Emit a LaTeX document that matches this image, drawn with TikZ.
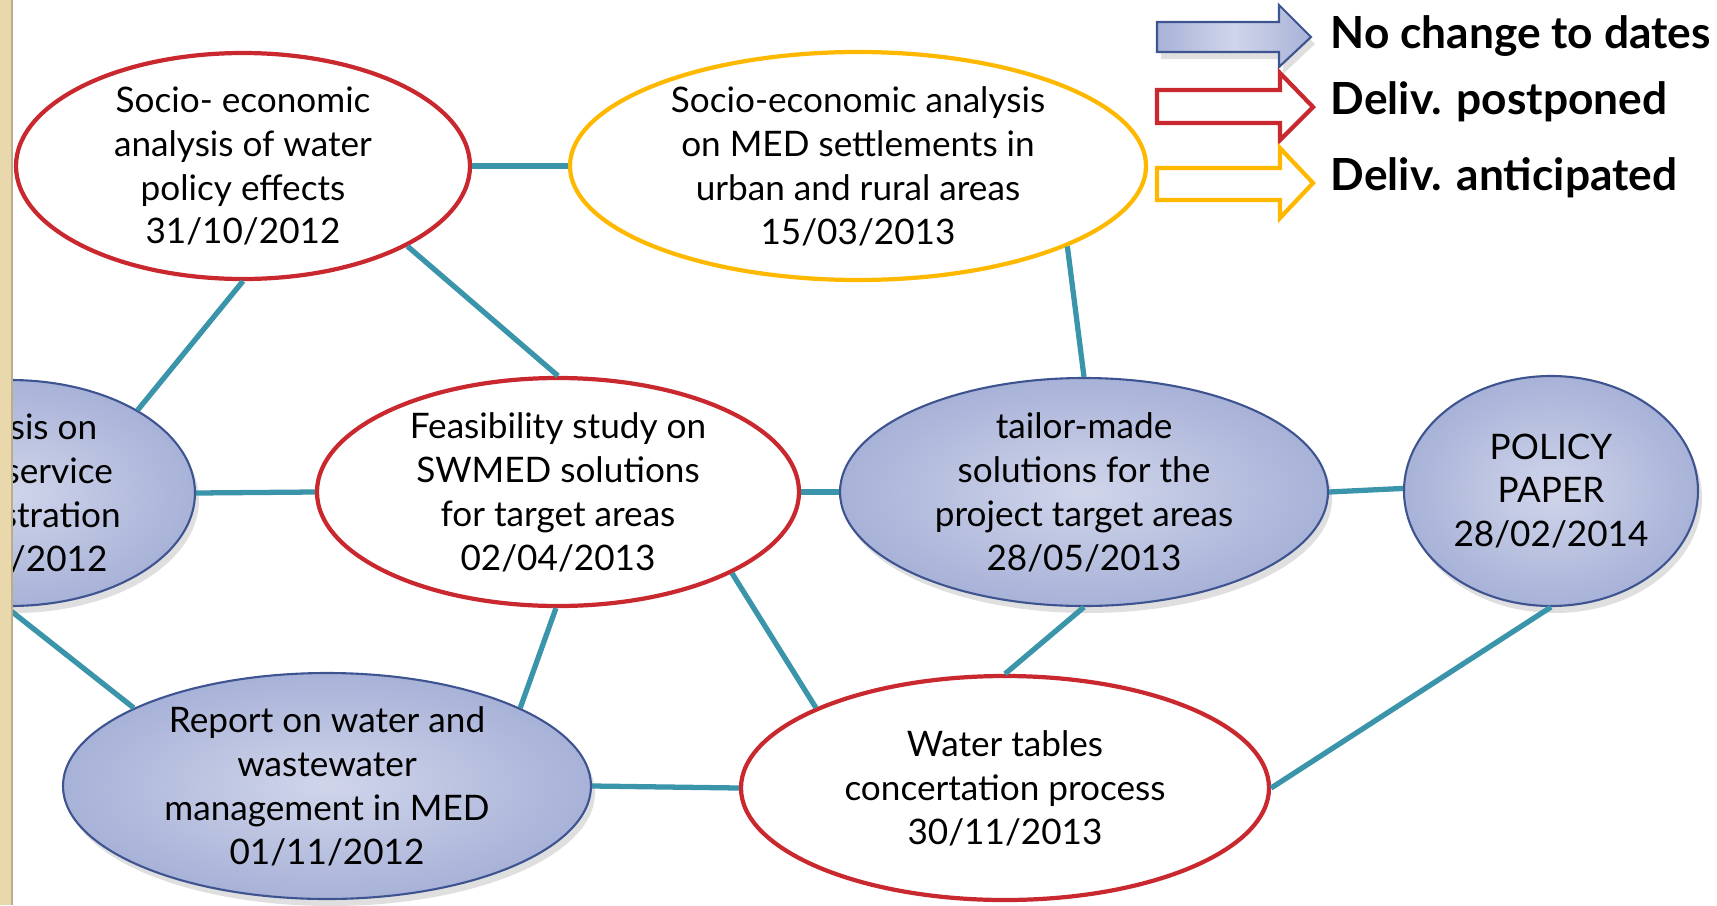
\documentclass[tikz,border=0pt]{standalone}
\usepackage{fontspec}
\setmainfont{Lato}
\usepackage{tikz}
\usetikzlibrary{shapes.geometric,shadows,positioning}
\definecolor{wpRed}{RGB}{200,40,46}
\definecolor{wpGold}{RGB}{255,184,0}
\definecolor{wpTeal}{RGB}{58,148,170}
\definecolor{wpNavy}{RGB}{62,84,145}
\definecolor{wpLight}{RGB}{208,213,234}
\definecolor{wpEdge}{RGB}{168,178,216}
\definecolor{wpBeige}{RGB}{232,216,172}
\tikzset{
  blob/.style={ellipse,inner xsep=0pt,inner ysep=-1.5mm,align=center,
    font=\fontsize{10}{12.5}\selectfont},
  redblob/.style={blob,draw=wpRed,line width=1.2pt,fill=white},
  goldblob/.style={blob,draw=wpGold,line width=1.2pt,fill=white},
  blueblob/.style={blob,draw=wpNavy,line width=0.6pt,inner color=wpLight,outer color=wpEdge,
    drop shadow={opacity=0.25,shadow xshift=0.04,shadow yshift=-0.07}},
  link/.style={wpTeal,line width=1.5pt},
  keytext/.style={anchor=west,font=\fontsize{12.6}{15}\selectfont\bfseries,inner sep=0pt}
}

\begin{document}
\begin{tikzpicture}
  \useasboundingbox (0,0) rectangle (17.17,9.05);
  % deliverables
  \node[redblob,minimum width=4.54cm,minimum height=2.26cm] (socio) at (2.43,7.39)
    {Socio- economic\\analysis of water\\policy effects\\31/10/2012};
  \node[goldblob,minimum width=5.76cm,minimum height=2.28cm] (settle) at (8.58,7.39)
    {Socio-economic analysis\\on MED settlements in\\urban and rural areas\\15/03/2013};
  \node[blueblob,minimum width=3.70cm,minimum height=2.26cm] (admin) at (0.10,4.12)
    {Analysis on\\water service\\administration\\30/06/2012};
  \node[redblob,minimum width=4.82cm,minimum height=2.28cm] (feas) at (5.58,4.13)
    {Feasibility study on\\SWMED solutions\\for target areas\\02/04/2013};
  \node[blueblob,minimum width=4.88cm,minimum height=2.28cm] (tailor) at (10.84,4.13)
    {tailor-made\\solutions for the\\project target areas\\28/05/2013};
  \node[blueblob,minimum width=2.94cm,minimum height=2.30cm] (policy) at (15.51,4.14)
    {POLICY\\PAPER\\28/02/2014};
  \node[blueblob,minimum width=5.28cm,minimum height=2.26cm] (report) at (3.27,1.19)
    {Report on water and\\wastewater\\management in MED\\01/11/2012};
  \node[redblob,minimum width=5.28cm,minimum height=2.24cm] (water) at (10.05,1.17)
    {Water tables\\concertation process\\30/11/2013};

  % links
  \draw[link] (socio.0) -- (settle.180);
  \draw[link] (socio.-90) -- (admin.33);
  \draw[link] (socio.-26) -- (feas.90);
  \draw[link] (admin.0) -- (feas.180);
  \draw[link] (admin.-92) -- (report.158);
  \draw[link] (feas.-91) -- (report.22);
  \draw[link] (feas.-25) -- (water.157);
  \draw[link] (feas.0) -- (tailor.180);
  \draw[link] (settle.-21) -- (tailor.90);
  \draw[link] (tailor.-90) -- (water.90);
  \draw[link] (tailor.0) -- (policy.179);
  \draw[link] (report.0) -- (water.180);
  \draw[link] (water.0) -- (policy.-90);

  % legend
  \draw[draw=wpNavy,line width=0.6pt,left color=wpEdge,right color=wpEdge,middle color=wpLight,
    drop shadow={opacity=0.25,shadow xshift=0.04,shadow yshift=-0.07}]
    (11.57,8.83) -- (12.79,8.83) -- (12.79,9.00) -- (13.11,8.68) -- (12.79,8.38)
    -- (12.79,8.53) -- (11.57,8.53) -- cycle;
  \draw[wpRed,line width=1.2pt,fill=white]
    (11.57,8.15) -- (12.80,8.15) -- (12.80,8.32) -- (13.13,7.98) -- (12.80,7.65)
    -- (12.80,7.82) -- (11.57,7.82) -- cycle;
  \draw[wpGold,line width=1.2pt,fill=white]
    (11.57,7.37) -- (12.80,7.37) -- (12.80,7.57) -- (13.13,7.22) -- (12.80,6.87)
    -- (12.80,7.05) -- (11.57,7.05) -- cycle;
  \node[keytext] (keysame) at (13.30,8.69) {No change to dates};
  \node[keytext] (keylate) at (13.30,8.03) {Deliv. postponed};
  \node[keytext] (keyearly) at (13.30,7.27) {Deliv. anticipated};

  % page edge
  \fill[wpBeige] (0,0) rectangle (0.12,9.05);
  \draw[wpBeige!80!black,line width=0.3pt] (0.12,0) -- (0.12,9.05);
\end{tikzpicture}
\end{document}
